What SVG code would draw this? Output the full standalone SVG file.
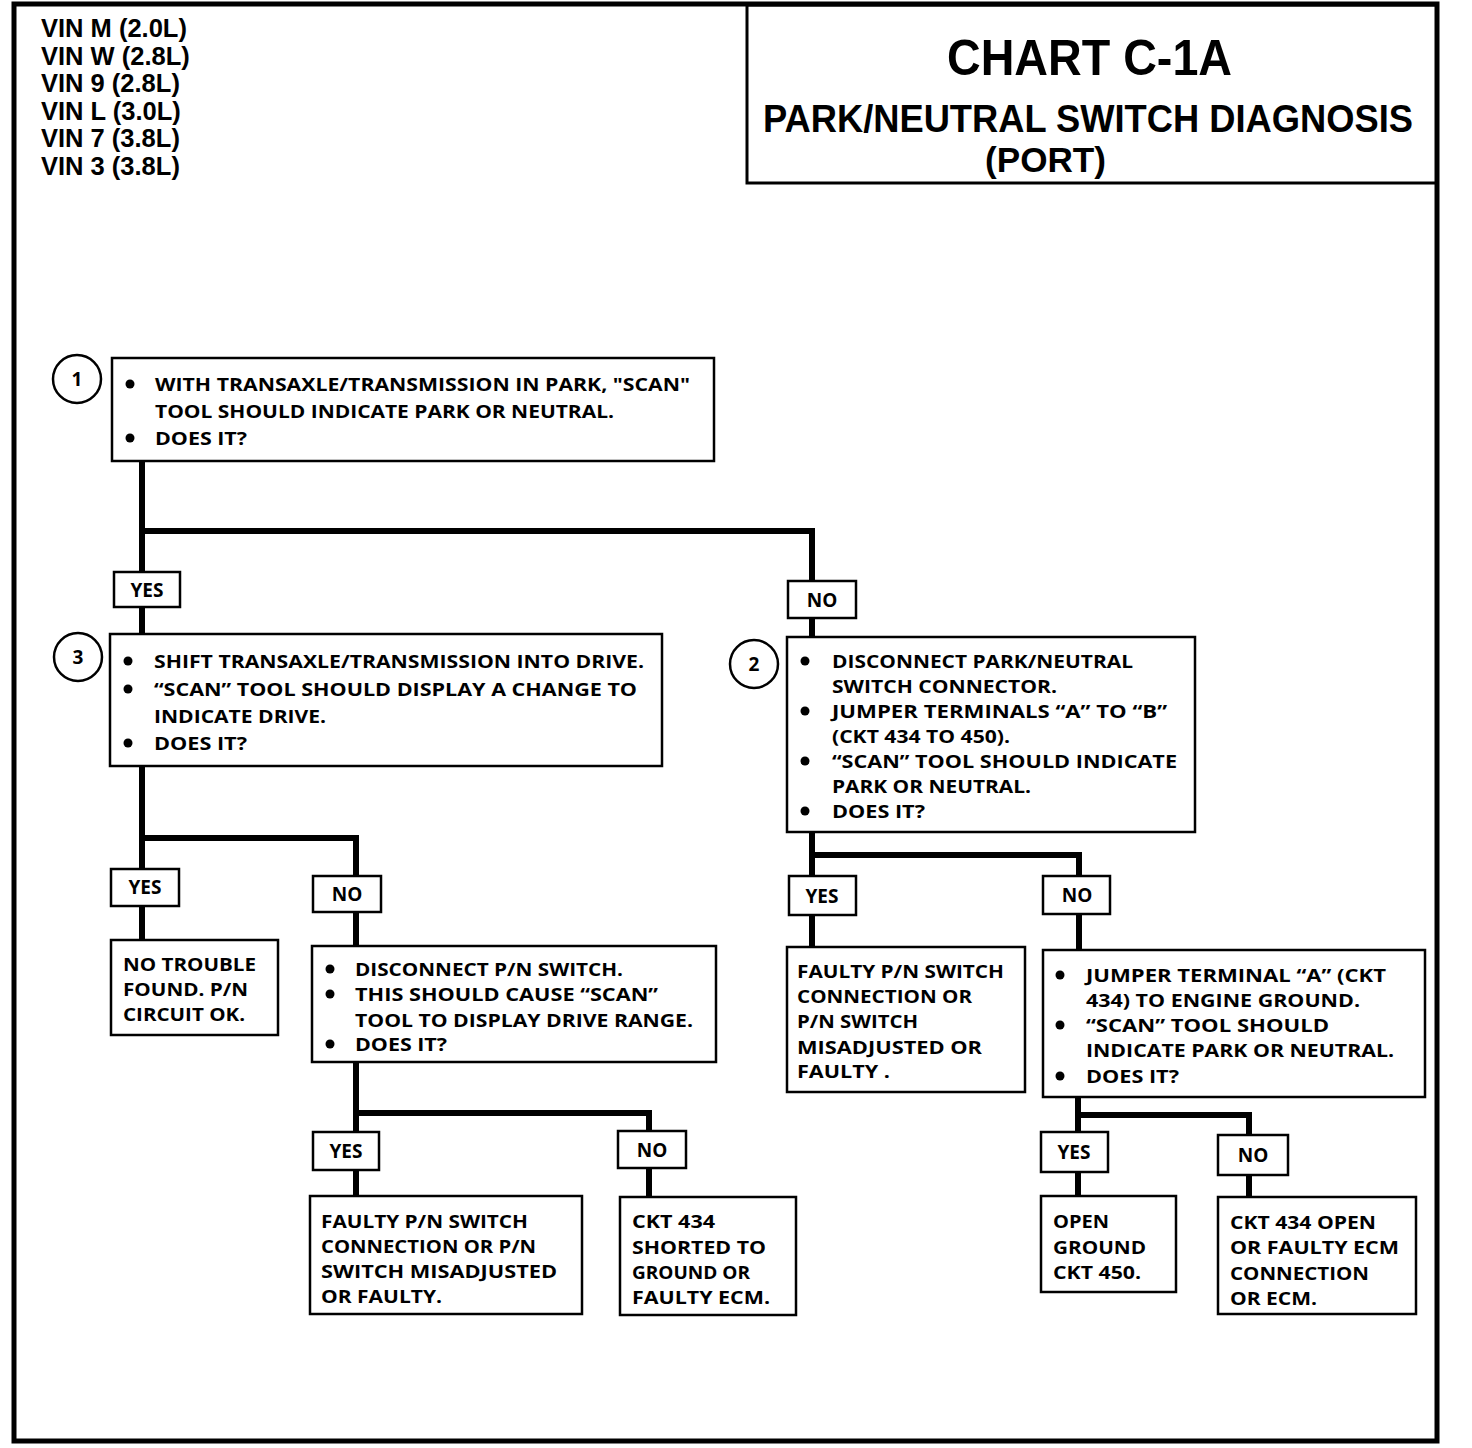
<svg xmlns="http://www.w3.org/2000/svg" width="1472" height="1448" viewBox="0 0 1472 1448">
<style>
.t{font-family:"Open Sans","Noto Sans",sans-serif;font-weight:700;font-size:18px;fill:#000}
.v{font-family:"Liberation Sans",Arial,sans-serif;font-weight:700;font-size:25.5px;fill:#000}
.b{fill:#fff;stroke:#000;stroke-width:2.5}
.lb{fill:#fff;stroke:#000;stroke-width:2.5}
.c{fill:#fff;stroke:#000;stroke-width:2.5}
.n{font-family:"Open Sans","Noto Sans",sans-serif;font-weight:700;font-size:19px;fill:#000;text-anchor:middle}
.ln{fill:none;stroke:#000;stroke-width:6;stroke-linejoin:miter}
.h{font-family:"Liberation Sans",Arial,sans-serif;font-weight:700;fill:#000}
</style>
<rect x="0" y="0" width="1472" height="1448" fill="#fff"/>
<rect x="14" y="4" width="1423" height="1437" fill="none" stroke="#000" stroke-width="5"/>
<g id="vin">
<text class="v" x="41" y="37">VIN M (2.0L)</text>
<text class="v" x="41" y="65">VIN W (2.8L)</text>
<text class="v" x="41" y="92">VIN 9 (2.8L)</text>
<text class="v" x="41" y="120">VIN L (3.0L)</text>
<text class="v" x="41" y="147">VIN 7 (3.8L)</text>
<text class="v" x="41" y="175">VIN 3 (3.8L)</text>
</g>
<g id="title">
<rect x="747" y="5" width="690" height="178" fill="none" stroke="#000" stroke-width="3"/>
<text class="h" x="947" y="75" font-size="50" textLength="285" lengthAdjust="spacingAndGlyphs">CHART C-1A</text>
<text class="h" x="763" y="132" font-size="39" textLength="650" lengthAdjust="spacingAndGlyphs">PARK/NEUTRAL SWITCH DIAGNOSIS</text>
<text class="h" x="985" y="172" font-size="35" textLength="121" lengthAdjust="spacingAndGlyphs">(PORT)</text>
</g>
<g id="connectors">
<path class="ln" d="M142 461 V634"/>
<path class="ln" d="M142 531 H812 V637"/>
<path class="ln" d="M142 766 V940"/>
<path class="ln" d="M142 838 H356 V946"/>
<path class="ln" d="M356 1062 V1196"/>
<path class="ln" d="M356 1113 H649 V1197"/>
<path class="ln" d="M812 832 V947"/>
<path class="ln" d="M812 855 H1079 V950"/>
<path class="ln" d="M1078 1097 V1196"/>
<path class="ln" d="M1078 1115 H1249 V1197"/>
</g>
<g id="node1">
<circle class="c" cx="77" cy="379" r="24"/>
<text class="n" x="77" y="386">1</text>
<rect class="b" x="112" y="358" width="602" height="103"/>
<circle cx="130" cy="384" r="4.5"/><circle cx="130" cy="438" r="4.5"/>
<text class="t" x="155" y="391" textLength="535" lengthAdjust="spacingAndGlyphs">WITH TRANSAXLE/TRANSMISSION IN PARK, "SCAN"</text>
<text class="t" x="155" y="418" textLength="459" lengthAdjust="spacingAndGlyphs">TOOL SHOULD INDICATE PARK OR NEUTRAL.</text>
<text class="t" x="155" y="445" textLength="92" lengthAdjust="spacingAndGlyphs">DOES IT?</text>
</g>
<g id="yes1"><rect class="lb" x="114" y="572" width="66" height="35"/><text class="n" x="147" y="597">YES</text></g>
<g id="no1"><rect class="lb" x="788" y="581" width="68" height="37"/><text class="n" x="822" y="607">NO</text></g>
<g id="node3">
<circle class="c" cx="78" cy="657" r="24"/>
<text class="n" x="78" y="664">3</text>
<rect class="b" x="110" y="634" width="552" height="132"/>
<circle cx="128" cy="661" r="4.5"/><circle cx="128" cy="689" r="4.5"/><circle cx="128" cy="743" r="4.5"/>
<text class="t" x="154" y="668" textLength="490" lengthAdjust="spacingAndGlyphs">SHIFT TRANSAXLE/TRANSMISSION  INTO DRIVE.</text>
<text class="t" x="154" y="696" textLength="483" lengthAdjust="spacingAndGlyphs">“SCAN” TOOL SHOULD DISPLAY A CHANGE TO</text>
<text class="t" x="154" y="723" textLength="172" lengthAdjust="spacingAndGlyphs">INDICATE DRIVE.</text>
<text class="t" x="154" y="750" textLength="93" lengthAdjust="spacingAndGlyphs">DOES IT?</text>
</g>
<g id="node2">
<circle class="c" cx="754" cy="664" r="24"/>
<text class="n" x="754" y="671">2</text>
<rect class="b" x="787" y="637" width="408" height="195"/>
<circle cx="805" cy="661" r="4.5"/><circle cx="805" cy="711" r="4.5"/><circle cx="805" cy="761" r="4.5"/><circle cx="805" cy="811" r="4.5"/>
<text class="t" x="832" y="668" textLength="301" lengthAdjust="spacingAndGlyphs">DISCONNECT PARK/NEUTRAL</text>
<text class="t" x="832" y="693" textLength="225" lengthAdjust="spacingAndGlyphs">SWITCH CONNECTOR.</text>
<text class="t" x="832" y="718" textLength="335" lengthAdjust="spacingAndGlyphs">JUMPER TERMINALS “A” TO “B”</text>
<text class="t" x="832" y="743" textLength="178" lengthAdjust="spacingAndGlyphs">(CKT 434 TO 450).</text>
<text class="t" x="832" y="768" textLength="345" lengthAdjust="spacingAndGlyphs">“SCAN” TOOL SHOULD INDICATE</text>
<text class="t" x="832" y="793" textLength="199" lengthAdjust="spacingAndGlyphs">PARK OR NEUTRAL.</text>
<text class="t" x="832" y="818" textLength="93" lengthAdjust="spacingAndGlyphs">DOES IT?</text>
</g>
<g id="yes3"><rect class="lb" x="111" y="869" width="68" height="37"/><text class="n" x="145" y="894">YES</text></g>
<g id="no3"><rect class="lb" x="313" y="876" width="68" height="36"/><text class="n" x="347" y="901">NO</text></g>
<g id="yes2"><rect class="lb" x="789" y="876" width="67" height="39"/><text class="n" x="822" y="903">YES</text></g>
<g id="no2"><rect class="lb" x="1043" y="876" width="67" height="38"/><text class="n" x="1077" y="902">NO</text></g>
<g id="ok">
<rect class="b" x="111" y="940" width="167" height="95"/>
<text class="t" x="123" y="971" textLength="133" lengthAdjust="spacingAndGlyphs">NO TROUBLE</text>
<text class="t" x="123" y="996" textLength="125" lengthAdjust="spacingAndGlyphs">FOUND.  P/N</text>
<text class="t" x="123" y="1021" textLength="122" lengthAdjust="spacingAndGlyphs">CIRCUIT OK.</text>
</g>
<g id="disconnect">
<rect class="b" x="312" y="946" width="404" height="116"/>
<circle cx="330" cy="969" r="4.5"/><circle cx="330" cy="994" r="4.5"/><circle cx="330" cy="1044" r="4.5"/>
<text class="t" x="355" y="976" textLength="268" lengthAdjust="spacingAndGlyphs">DISCONNECT P/N SWITCH.</text>
<text class="t" x="355" y="1001" textLength="303" lengthAdjust="spacingAndGlyphs">THIS SHOULD CAUSE “SCAN”</text>
<text class="t" x="355" y="1027" textLength="338" lengthAdjust="spacingAndGlyphs">TOOL TO DISPLAY DRIVE RANGE.</text>
<text class="t" x="355" y="1051" textLength="92" lengthAdjust="spacingAndGlyphs">DOES IT?</text>
</g>
<g id="faulty2">
<rect class="b" x="787" y="947" width="238" height="145"/>
<text class="t" x="797" y="978" textLength="207" lengthAdjust="spacingAndGlyphs">FAULTY P/N SWITCH</text>
<text class="t" x="797" y="1003" textLength="175" lengthAdjust="spacingAndGlyphs">CONNECTION OR</text>
<text class="t" x="797" y="1028" textLength="121" lengthAdjust="spacingAndGlyphs">P/N SWITCH</text>
<text class="t" x="797" y="1054" textLength="185" lengthAdjust="spacingAndGlyphs">MISADJUSTED OR</text>
<text class="t" x="797" y="1078" textLength="93" lengthAdjust="spacingAndGlyphs">FAULTY .</text>
</g>
<g id="jumper">
<rect class="b" x="1043" y="950" width="382" height="147"/>
<circle cx="1060" cy="975" r="4.5"/><circle cx="1060" cy="1025" r="4.5"/><circle cx="1060" cy="1076" r="4.5"/>
<text class="t" x="1086" y="982" textLength="300" lengthAdjust="spacingAndGlyphs">JUMPER TERMINAL “A” (CKT</text>
<text class="t" x="1086" y="1007" textLength="274" lengthAdjust="spacingAndGlyphs">434) TO ENGINE GROUND.</text>
<text class="t" x="1086" y="1032" textLength="243" lengthAdjust="spacingAndGlyphs">“SCAN” TOOL SHOULD</text>
<text class="t" x="1086" y="1057" textLength="308" lengthAdjust="spacingAndGlyphs">INDICATE PARK OR NEUTRAL.</text>
<text class="t" x="1086" y="1083" textLength="93" lengthAdjust="spacingAndGlyphs">DOES IT?</text>
</g>
<g id="yes4"><rect class="lb" x="313" y="1132" width="66" height="38"/><text class="n" x="346" y="1158">YES</text></g>
<g id="no4"><rect class="lb" x="618" y="1131" width="68" height="37"/><text class="n" x="652" y="1157">NO</text></g>
<g id="yes5"><rect class="lb" x="1041" y="1132" width="67" height="40"/><text class="n" x="1074" y="1159">YES</text></g>
<g id="no5"><rect class="lb" x="1218" y="1135" width="70" height="40"/><text class="n" x="1253" y="1162">NO</text></g>
<g id="faulty1">
<rect class="b" x="310" y="1196" width="272" height="118"/>
<text class="t" x="321" y="1228" textLength="207" lengthAdjust="spacingAndGlyphs">FAULTY P/N SWITCH</text>
<text class="t" x="321" y="1253" textLength="215" lengthAdjust="spacingAndGlyphs">CONNECTION OR P/N</text>
<text class="t" x="321" y="1278" textLength="236" lengthAdjust="spacingAndGlyphs">SWITCH MISADJUSTED</text>
<text class="t" x="321" y="1303" textLength="121" lengthAdjust="spacingAndGlyphs">OR FAULTY.</text>
</g>
<g id="shorted">
<rect class="b" x="620" y="1197" width="176" height="118"/>
<text class="t" x="632" y="1228" textLength="83" lengthAdjust="spacingAndGlyphs">CKT 434</text>
<text class="t" x="632" y="1254" textLength="134" lengthAdjust="spacingAndGlyphs">SHORTED TO</text>
<text class="t" x="632" y="1279" textLength="118" lengthAdjust="spacingAndGlyphs">GROUND OR</text>
<text class="t" x="632" y="1304" textLength="138" lengthAdjust="spacingAndGlyphs">FAULTY ECM.</text>
</g>
<g id="openground">
<rect class="b" x="1041" y="1196" width="135" height="96"/>
<text class="t" x="1053" y="1228" textLength="56" lengthAdjust="spacingAndGlyphs">OPEN</text>
<text class="t" x="1053" y="1254" textLength="93" lengthAdjust="spacingAndGlyphs">GROUND</text>
<text class="t" x="1053" y="1279" textLength="88" lengthAdjust="spacingAndGlyphs">CKT 450.</text>
</g>
<g id="open434">
<rect class="b" x="1218" y="1197" width="198" height="117"/>
<text class="t" x="1230" y="1229" textLength="146" lengthAdjust="spacingAndGlyphs">CKT 434 OPEN</text>
<text class="t" x="1230" y="1254" textLength="169" lengthAdjust="spacingAndGlyphs">OR FAULTY ECM</text>
<text class="t" x="1230" y="1280" textLength="139" lengthAdjust="spacingAndGlyphs">CONNECTION</text>
<text class="t" x="1230" y="1305" textLength="87" lengthAdjust="spacingAndGlyphs">OR ECM.</text>
</g>
</svg>
